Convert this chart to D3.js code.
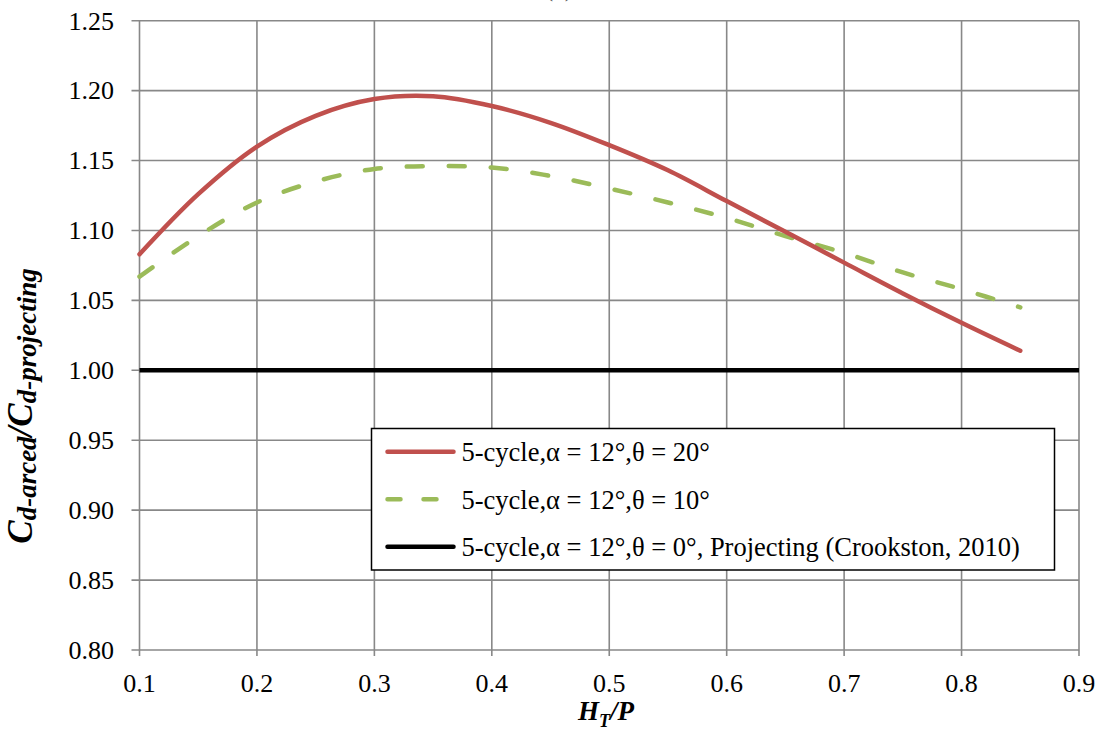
<!DOCTYPE html>
<html>
<head>
<meta charset="utf-8">
<script src="https://cdn.jsdelivr.net/npm/d3@7"></script>
<style>
  body { margin: 0; background: #fff; }
  svg { display: block; }
  svg text { font-family: "Liberation Serif", "DejaVu Serif", serif; }
</style>
</head>
<body>
<svg id="chart" width="1102" height="730"></svg>
<script>
// data
const htp = [0.10, 0.15, 0.20, 0.25, 0.30, 0.35, 0.40, 0.45, 0.50, 0.55, 0.60, 0.65, 0.70, 0.75, 0.80, 0.85];
const theta20 = [1.083, 1.126, 1.160, 1.182, 1.194, 1.196, 1.189, 1.177, 1.161, 1.143, 1.121, 1.099, 1.077, 1.055, 1.034, 1.014];
const theta10 = [1.067, 1.096, 1.120, 1.135, 1.144, 1.146, 1.145, 1.139, 1.130, 1.120, 1.109, 1.096, 1.084, 1.070, 1.058, 1.045];
const projX = [0.1, 0.9];
const projY = [1.0, 1.0];
const xTicks = [0.1, 0.2, 0.3, 0.4, 0.5, 0.6, 0.7, 0.8, 0.9];
const yTicks = [0.80, 0.85, 0.90, 0.95, 1.00, 1.05, 1.10, 1.15, 1.20, 1.25];
const legendLabels = [
  "5-cycle,\u03b1 = 12\u00b0,\u03b8 = 20\u00b0",
  "5-cycle,\u03b1 = 12\u00b0,\u03b8 = 10\u00b0",
  "5-cycle,\u03b1 = 12\u00b0,\u03b8 = 0\u00b0, Projecting (Crookston, 2010)"
];

const svg = d3.select('#chart');
const plot = {left: 139.5, right: 1079, top: 20.7, bottom: 650};

const x = d3.scaleLinear().domain([0.1, 0.9]).range([plot.left, plot.right]);
const y = d3.scaleLinear().domain([0.80, 1.25]).range([plot.bottom, plot.top]);

const gridColor = "#888";

// clipped title at the very top (only its bottom shows in the reference)
svg.append('text')
    .attr('x', 559).attr('y', -4)
    .attr('text-anchor', 'middle')
    .attr('font-size', 26)
    .attr('fill', '#555')
    .text('(a)');

// gridlines
svg.append('g')
    .selectAll('line.hgrid')
    .data(yTicks)
    .enter().append('line')
        .attr('class', 'hgrid')
        .attr('x1', plot.left - 8).attr('x2', plot.right)
        .attr('y1', d => y(d)).attr('y2', d => y(d))
        .attr('stroke', gridColor).attr('stroke-width', 1.6);

svg.append('g')
    .selectAll('line.vgrid')
    .data(xTicks)
    .enter().append('line')
        .attr('class', 'vgrid')
        .attr('y1', plot.top).attr('y2', plot.bottom + 6)
        .attr('x1', d => x(d)).attr('x2', d => x(d))
        .attr('stroke', gridColor).attr('stroke-width', 1.6);

// axis tick labels
svg.append('g')
    .selectAll('text')
    .data(yTicks)
    .enter().append('text')
        .attr('x', 114)
        .attr('y', d => y(d))
        .attr('dy', '0.34em')
        .attr('text-anchor', 'end')
        .attr('font-size', 26)
        .text(d => d.toFixed(2));

svg.append('g')
    .selectAll('text')
    .data(xTicks)
    .enter().append('text')
        .attr('x', d => x(d))
        .attr('y', 692)
        .attr('text-anchor', 'middle')
        .attr('font-size', 26)
        .text(d => d.toFixed(1));

// series lines
const line = d3.line()
    .x((d, i) => x(htp[i]))
    .y(d => y(d))
    .curve(d3.curveCatmullRom.alpha(0.5));

svg.append('path')
    .datum(projY)
    .attr('d', d3.line().x((d, i) => x(projX[i])).y(d => y(d)))
    .attr('fill', 'none')
    .attr('stroke', '#000')
    .attr('stroke-width', 4.5);

svg.append('path')
    .datum(theta10)
    .attr('d', line)
    .attr('fill', 'none')
    .attr('stroke', '#9BBB59')
    .attr('stroke-width', 4.5)
    .attr('stroke-linecap', 'round')
    .style('stroke-dasharray', '16,26');

svg.append('path')
    .datum(theta20)
    .attr('d', line)
    .attr('fill', 'none')
    .attr('stroke', '#C0504D')
    .attr('stroke-width', 4.5)
    .attr('stroke-linecap', 'round');

// legend
const legend = svg.append('g').attr('transform', 'translate(371.5,428.5)');
legend.append('rect')
    .attr('width', 683).attr('height', 141.5)
    .attr('fill', '#fff')
    .attr('stroke', '#000').attr('stroke-width', 1.5);

const legendStyles = [
  {color: '#C0504D', dash: null},
  {color: '#9BBB59', dash: '13,23'},
  {color: '#000', dash: null}
];

const legendRows = legend.selectAll('.legrow')
    .data(legendLabels)
    .enter().append('g')
        .attr('class', 'legrow')
        .attr('transform', (d, i) => `translate(0,${23.3 + i * 47.5})`);

legendRows.append('line')
    .attr('x1', 16).attr('x2', 82)
    .attr('stroke', (d, i) => legendStyles[i].color)
    .attr('stroke-width', 4.5)
    .attr('stroke-linecap', 'round')
    .style('stroke-dasharray', (d, i) => legendStyles[i].dash);

legendRows.append('text')
    .attr('x', 90)
    .attr('y', 9.5)
    .attr('font-size', 26.5)
    .text(d => d);

// axis titles
const xTitle = svg.append('text')
    .attr('x', 606).attr('y', 720)
    .attr('text-anchor', 'middle')
    .attr('font-weight', 'bold').attr('font-style', 'italic')
    .attr('font-size', 27);
xTitle.append('tspan').text('H');
xTitle.append('tspan').attr('font-size', 18).attr('dy', 7).text('T');
xTitle.append('tspan').attr('dy', -7).text('/P');

const yTitle = svg.append('text')
    .attr('transform', 'translate(32,406) rotate(-90)')
    .attr('text-anchor', 'middle')
    .attr('font-weight', 'bold').attr('font-style', 'italic')
    .attr('font-size', 35);
yTitle.append('tspan').text('C');
yTitle.append('tspan').attr('font-size', 27).attr('dy', 4).text('d-arced');
yTitle.append('tspan').attr('dy', -4).text('/C');
yTitle.append('tspan').attr('font-size', 27).attr('dy', 4).text('d-projecting');
</script>
</body>
</html>
